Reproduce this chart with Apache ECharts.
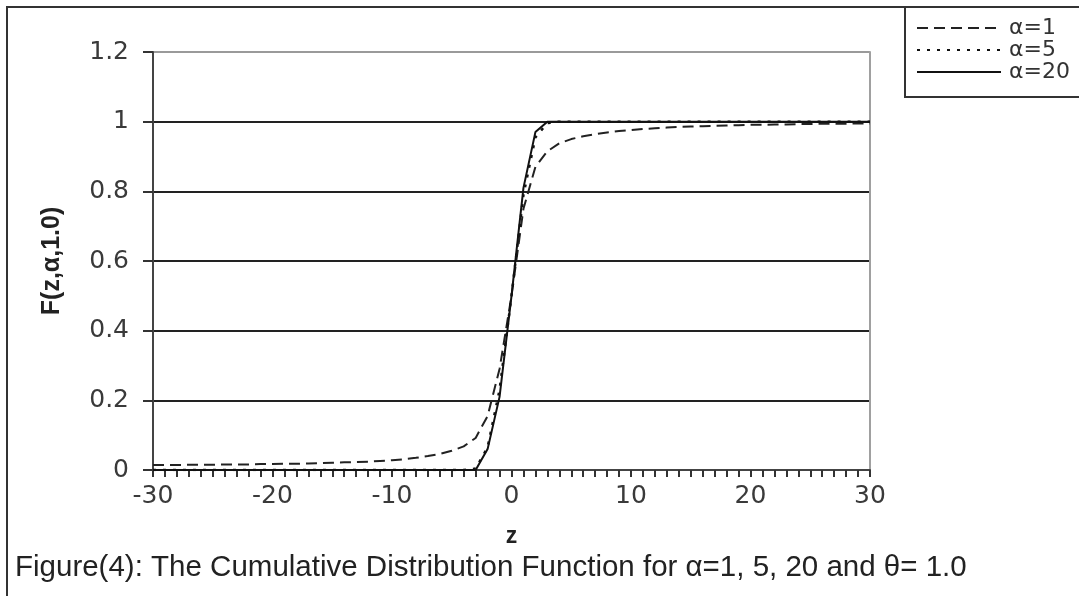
<!DOCTYPE html>
<html>
<head>
<meta charset="utf-8">
<script src="https://cdn.jsdelivr.net/npm/echarts@6/dist/echarts.min.js"></script>
<style>
  html, body { margin: 0; padding: 0; background: #fff; }
  #chart { width: 1079px; height: 596px; }
</style>
</head>
<body>
<div id="chart"></div>
<script>
// z values (categories on the x axis)
const zValues = [
  -30, -29, -28, -27, -26, -25, -24, -23, -22, -21,
  -20, -19, -18, -17, -16, -15, -14, -13, -12, -11,
  -10, -9, -8, -7, -6, -5, -4, -3, -2, -1,
  0, 1, 2, 3, 4, 5, 6, 7, 8, 9,
  10, 11, 12, 13, 14, 15, 16, 17, 18, 19,
  20, 21, 22, 23, 24, 25, 26, 27, 28, 29, 30
];

// F(z, alpha, 1.0)
const alpha1 = [
  0.014, 0.014, 0.014, 0.015, 0.015, 0.015, 0.016, 0.016, 0.016, 0.017,
  0.017, 0.018, 0.018, 0.019, 0.020, 0.021, 0.022, 0.023, 0.024, 0.026,
  0.028, 0.031, 0.035, 0.040, 0.046, 0.055, 0.068, 0.092, 0.155, 0.29,
  0.5, 0.75, 0.87, 0.915, 0.938, 0.950, 0.958, 0.964, 0.969, 0.973,
  0.976, 0.979, 0.981, 0.983, 0.985, 0.986, 0.987, 0.988, 0.989, 0.990,
  0.991, 0.991, 0.992, 0.992, 0.993, 0.993, 0.994, 0.994, 0.994, 0.995, 0.995
];
const alpha5 = [
  0, 0, 0, 0, 0, 0, 0, 0, 0, 0,
  0, 0, 0, 0, 0, 0, 0, 0, 0, 0,
  0, 0, 0, 0, 0, 0, 0, 0.004, 0.065, 0.23,
  0.5, 0.79, 0.955, 0.996, 1, 1, 1, 1, 1, 1,
  1, 1, 1, 1, 1, 1, 1, 1, 1, 1,
  1, 1, 1, 1, 1, 1, 1, 1, 1, 1, 1
];
const alpha20 = [
  0, 0, 0, 0, 0, 0, 0, 0, 0, 0,
  0, 0, 0, 0, 0, 0, 0, 0, 0, 0,
  0, 0, 0, 0, 0, 0, 0, 0, 0.06, 0.21,
  0.5, 0.81, 0.97, 1, 1, 1, 1, 1, 1, 1,
  1, 1, 1, 1, 1, 1, 1, 1, 1, 1,
  1, 1, 1, 1, 1, 1, 1, 1, 1, 1, 1
];

const seriesNames = ["α=1", "α=5", "α=20"];
const caption = "Figure(4): The Cumulative Distribution Function for α=1, 5, 20 and θ= 1.0";

const pairs = ys => zValues.map((z, i) => [z, ys[i]]);

const chart = echarts.init(document.getElementById("chart"));

const labelFont = { fontFamily: "DejaVu Sans", fontSize: 25, color: "#3a3a3a" };

chart.setOption({
  backgroundColor: "#fff",
  animation: false,
  title: {
    text: caption,
    left: 10,
    top: 548,
    textStyle: { fontFamily: "Liberation Sans", fontSize: 29.5, fontWeight: "normal", color: "#222" }
  },
  legend: {
    orient: "vertical",
    left: 916,
    top: 17,
    itemWidth: 84,
    itemHeight: 12,
    itemGap: 0,
    padding: 0,
    itemStyle: { opacity: 0 },
    textStyle: { fontFamily: "DejaVu Sans", fontSize: 22, color: "#333", padding: [0, 0, 0, 3] },
    data: seriesNames
  },
  graphic: [
    // figure frame (left and top edges) and legend box
    { type: "polyline", silent: true, shape: { points: [[7, 596], [7, 7], [905, 7]] },
      style: { stroke: "#333", lineWidth: 2, fill: null } },
    { type: "rect", silent: true, shape: { x: 905, y: 7, width: 200, height: 90 },
      style: { stroke: "#333", lineWidth: 2, fill: null } }
  ],
  grid: { left: 153, right: 209, top: 52, bottom: 126 },
  xAxis: {
    type: "value",
    min: -30,
    max: 30,
    interval: 10,
    name: "z",
    nameLocation: "middle",
    nameGap: 55,
    nameTextStyle: { fontFamily: "Liberation Sans", fontSize: 23, fontWeight: "bold", color: "#222" },
    axisLine: { onZero: false, lineStyle: { color: "#444", width: 2 } },
    axisTick: { show: true, length: 7, lineStyle: { color: "#333", width: 2 } },
    minorTick: { show: true, splitNumber: 10, length: 7, lineStyle: { color: "#333", width: 2 } },
    axisLabel: Object.assign({ margin: 14 }, labelFont),
    splitLine: { show: false }
  },
  yAxis: [{
    type: "value",
    min: 0,
    max: 1.2,
    interval: 0.2,
    name: "F(z,α,1.0)",
    nameLocation: "middle",
    nameGap: 88,
    nameTextStyle: { fontFamily: "Liberation Sans", fontSize: 25, fontWeight: "bold", color: "#222" },
    axisLine: { show: true, onZero: false, lineStyle: { color: "#444", width: 2 } },
    axisTick: { show: true, length: 10, lineStyle: { color: "#333", width: 2 } },
    axisLabel: Object.assign({ margin: 24 }, labelFont),
    splitLine: {
      show: true,
      lineStyle: { color: ["#222", "#222", "#222", "#222", "#222", "#222", "#9a9a9a"], width: 2 }
    }
  }, {
    // right edge of the plot area
    type: "value",
    position: "right",
    min: 0,
    max: 1.2,
    axisLine: { show: true, onZero: false, lineStyle: { color: "#a0a0a0", width: 2 } },
    axisTick: { show: false },
    axisLabel: { show: false },
    splitLine: { show: false }
  }],
  series: [
    {
      name: seriesNames[0], type: "line", data: pairs(alpha1), symbol: "none",
      lineStyle: { color: "#222", width: 2, type: [11, 6] }, itemStyle: { color: "#222" }
    },
    {
      name: seriesNames[1], type: "line", data: pairs(alpha5), symbol: "none",
      lineStyle: { color: "#111", width: 2.5, type: [3, 7] }, itemStyle: { color: "#111" }
    },
    {
      name: seriesNames[2], type: "line", data: pairs(alpha20), symbol: "none",
      lineStyle: { color: "#111", width: 2, type: "solid" }, itemStyle: { color: "#111" }
    }
  ]
});
</script>
</body>
</html>
